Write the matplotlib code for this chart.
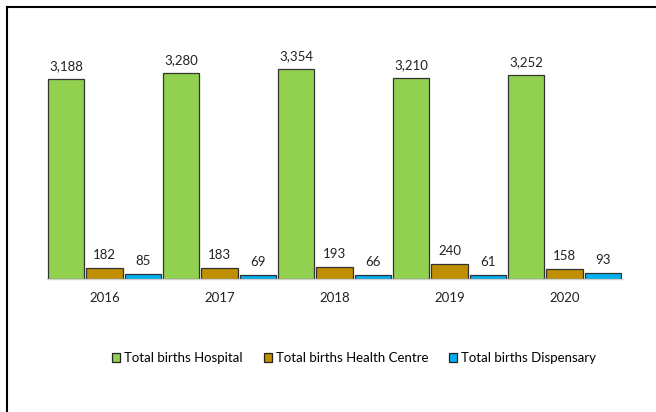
import numpy as np
import matplotlib
matplotlib.use('agg')
import matplotlib.pyplot as plt
from matplotlib.lines import Line2D

years = ["2016", "2017", "2018", "2019", "2020"]
hospital = [3188, 3280, 3354, 3210, 3252]
health_centre = [182, 183, 193, 240, 158]
dispensary = [85, 69, 66, 61, 93]

series_names = ["Total births Hospital", "Total births Health Centre", "Total births Dispensary"]
colors = ["#92D050", "#BF8F00", "#00B0F0"]

plt.rcParams['font.family'] = ['Lato', 'DejaVu Sans']

W, H = 656, 412
fig = plt.figure(figsize=(W / 100, H / 100), dpi=100)

# axes placed in pixel terms: x 47..622, baseline at y=279
ymax = 3800
px_per_unit = 200 / 3188
ax_h = ymax * px_per_unit
ax = fig.add_axes([47 / W, (H - 279) / H, 575 / W, ax_h / H])

x = np.arange(len(years))
bw = 0.315
offsets = [-0.333, 0.0, 0.333]
for vals, off, col, name in zip([hospital, health_centre, dispensary], offsets, colors, series_names):
    bars = ax.bar(x + off, vals, width=bw, color=col, edgecolor="#333333", linewidth=0.9, label=name)
    for b, v in zip(bars, vals):
        ax.text(b.get_x() + b.get_width() / 2, v + 110, f"{v:,}", ha="center", va="bottom",
                fontsize=9.5, color="#222222")

ax.set_xlim(-0.5, len(years) - 0.5)
ax.set_ylim(0, ymax)
ax.set_xticks(x)
ax.set_xticklabels(years, fontsize=9.5, color="#222222")
ax.tick_params(axis="x", length=0, pad=9)
ax.set_yticks([])
for s in ["top", "right", "left"]:
    ax.spines[s].set_visible(False)
ax.spines["bottom"].set_color("#d0d0d0")
ax.spines["bottom"].set_linewidth(1)

handles = [plt.Rectangle((0, 0), 1, 1, facecolor=c, edgecolor="#222222", linewidth=0.9) for c in colors]
fig.legend(handles, series_names, loc="center", bbox_to_anchor=(354 / W, 1 - 358 / H),
           ncol=3, frameon=False, fontsize=9.5, handlelength=0.6, handleheight=0.6,
           handletextpad=0.3, columnspacing=1.6)

# outer frame (partly cut off like the source page)
fig.add_artist(Line2D([7 / W, 7 / W], [0, 1 - 7 / H], transform=fig.transFigure, color="black", lw=1.5))
fig.add_artist(Line2D([7 / W, 1], [1 - 7 / H, 1 - 7 / H], transform=fig.transFigure, color="black", lw=1.5))

fig.savefig("out.png", dpi=100)
